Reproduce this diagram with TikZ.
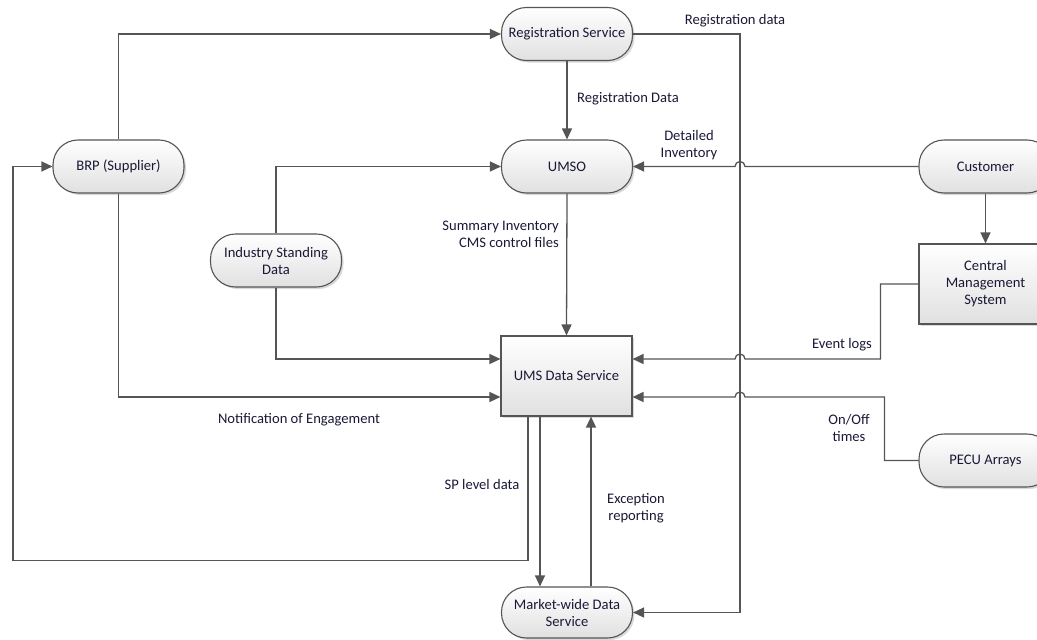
\documentclass[tikz,border=0pt]{standalone}
\usepackage{fontspec}
\setmainfont{Carlito}
\usetikzlibrary{arrows.meta,shadows,calc}
\definecolor{txt}{RGB}{25,25,55}
\definecolor{ln}{RGB}{85,85,85}
\tikzset{
  base/.style={draw=ln, line width=1.1pt, top color=white, bottom color=black!12,
    drop shadow={shadow xshift=2pt, shadow yshift=-2pt, fill=black!25, opacity=0.6},
    font=\fontsize{14.6}{17}\selectfont, text=txt, align=center, inner sep=1pt},
  pill/.style={base, rounded corners=25pt, minimum width=131pt, minimum height=53pt},
  box/.style={base, minimum width=131pt, minimum height=80pt},
  arr/.style={draw=ln, line width=1.3pt, -{Triangle[length=11pt,width=10pt]}},
  lbl/.style={font=\fontsize{14.6}{17}\selectfont, text=txt, align=center, inner sep=0pt, yshift=-1.5pt}
}
\begin{document}
\begin{tikzpicture}[x=1pt,y=-1pt]
\useasboundingbox (0,0) rectangle (1037,640);
\clip (0,0) rectangle (1037,640);
% nodes
\node[pill] (reg) at (567,34) {Registration Service};
\node[pill] (umso) at (567,166.5) {UMSO};
\node[pill] (brp) at (118.5,166.5) {BRP (Supplier)};
\node[pill] (isd) at (276,260.5) {Industry Standing\\Data};
\node[pill, minimum width=133pt] (cust) at (985.5,166.5) {Customer};
\node[box, minimum width=133pt] (cms) at (985.5,284) {Central\\Management\\System};
\node[pill, minimum width=133pt] (pecu) at (985.5,460.5) {PECU Arrays};
\node[box] (ums) at (566.5,376) {UMS Data Service};
\node[pill, minimum height=51pt] (mkt) at (567,612.5) {Market-wide Data\\Service};
% helper coordinates
\coordinate (jx) at (740,0);
\coordinate (e1) at ([yshift=17pt]ums.east);
\coordinate (e2) at ([yshift=-21pt]ums.east);
\coordinate (w1) at ([yshift=17pt]ums.west);
\coordinate (w2) at ([yshift=-21pt]ums.west);
\coordinate (j0) at ($(jx |- cust.west)+(5,0)$);
\coordinate (j1) at ($(jx |- e1)+(5,0)$);
\coordinate (j2) at ($(jx |- e2)+(5,0)$);
\coordinate (b1) at ([xshift=-38.5pt]ums.south);
\coordinate (b2) at ([xshift=-26.5pt]ums.south);
\coordinate (b3) at ([xshift=24.5pt]ums.south);
\coordinate (lx) at (13,560.5);
% connectors
\draw[arr] (brp.north) |- (reg.west);
\draw[arr] (reg.south) -- (umso.north);
\draw[arr] (reg.east) -| (jx |- mkt.east) -- (mkt.east);
\draw[arr] (cust.west) -- (j0) arc[start angle=0,end angle=180,radius=5pt] -- (umso.east);
\draw[arr] (isd.north) |- (umso.west);
\draw[arr] (cust.south) -- (cms.north);
\draw[arr] (cms.west) -- ++(-38,0) |- (j1) arc[start angle=0,end angle=180,radius=5pt] -- (e1);
\draw[arr] (pecu.west) -- ++(-34,0) |- (j2) arc[start angle=0,end angle=180,radius=5pt] -- (e2);
\draw[arr] (umso.south) -- (ums.north);
\draw[arr] (isd.south) |- (w1);
\draw[arr] (brp.south) |- (w2);
\draw[arr] (b1) |- (lx) |- (brp.west);
\draw[arr] (b2) -- (b2 |- mkt.north);
\draw[arr] (mkt.north -| b3) -- (b3);
% labels
\node[lbl] (l1) at (735,19) {Registration data};
\node[lbl] (l2) at (628,97) {Registration Data};
\node[lbl] (l3) at (689,144) {Detailed\\Inventory};
\node[lbl, align=right, anchor=east] (l4) at (559,233) {Summary Inventory\\CMS control files};
\node[lbl] (l5) at (842,343) {Event logs};
\node[lbl] (l6) at (849,426) {On/Off\\times};
\node[lbl] (l7) at (299,418) {Notification of Engagement};
\node[lbl] (l8) at (482,483) {SP level data};
\node[lbl] (l9) at (636,507) {Exception\\reporting};
\end{tikzpicture}
\end{document}
